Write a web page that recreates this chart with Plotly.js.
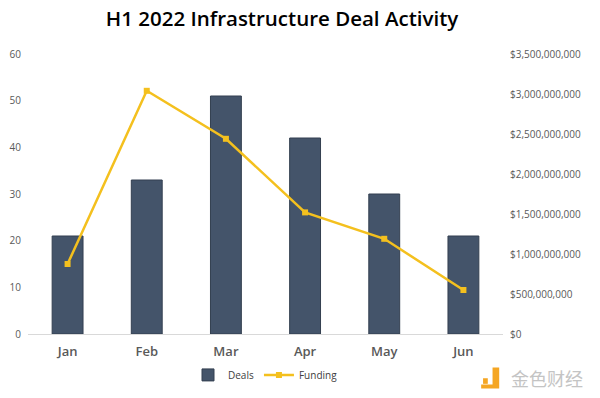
<!DOCTYPE html>
<html><head><meta charset="utf-8">
<script src="https://cdn.plot.ly/plotly-3.0.1.min.js"></script>
<style>body{margin:0;background:#fff}#chart{width:600px;height:398px}</style>
</head><body><div id="chart"></div>
<script>
const months = ["Jan","Feb","Mar","Apr","May","Jun"];
const deals = [21, 33, 51, 42, 30, 21];
const funding = [875000000, 3040000000, 2440000000, 1520000000, 1190000000, 550000000];
const leftTicks = [0,10,20,30,40,50,60];
const rightTicks = [0,500000000,1000000000,1500000000,2000000000,2500000000,3000000000,3500000000];
const rightLabels = rightTicks.map(v => "$" + v.toLocaleString("en-US"));

const font = "Open Sans, Noto Sans, sans-serif";
const data = [
  {type:"bar", x:months, y:deals, name:"Deals", marker:{color:"#44546a", line:{color:"#333f50", width:1}}, yaxis:"y"},
  {type:"scatter", mode:"lines+markers", x:months, y:funding, name:"Funding", yaxis:"y2",
   line:{color:"#f4c01e", width:2.5}, marker:{symbol:"square", size:6, color:"#f4c01e"}}
];
const layout = {
  width:600, height:398,
  margin:{l:28, r:97, t:54, b:64},
  paper_bgcolor:"#fff", plot_bgcolor:"#fff",
  font:{family:font, color:"#595959"},
  title:{text:"H1 2022 Infrastructure Deal Activity", x:0.47, xref:"container", xanchor:"center", y:0.953, yanchor:"middle", font:{family:font, size:20.5, color:"#000", weight:600}},
  bargap:0.61,
  showlegend:true,
  legend:{orientation:"h", x:0.5, xanchor:"center", yref:"container", y:0.058, yanchor:"middle", font:{size:10, color:"#404040"}},
  xaxis:{showgrid:false, showline:true, linecolor:"#d9d9d9", linewidth:1, ticks:"", tickfont:{size:13, color:"#595959", weight:600}, zeroline:false, ticklabelstandoff:5},
  yaxis:{range:[0,60], tickvals:leftTicks, showgrid:false, zeroline:false, showline:false, ticks:"", tickfont:{size:10, color:"#595959"}, ticklabelstandoff:6},
  yaxis2:{range:[0,3500000000], overlaying:"y", side:"right", tickvals:rightTicks, ticktext:rightLabels, showgrid:false, zeroline:false, showline:false, ticks:"", tickfont:{size:10, color:"#595959"}, ticklabelstandoff:6},
  shapes:[
    {type:"rect", xref:"paper", yref:"paper", x0:0.958, x1:0.968, y0:-0.178, y1:-0.158, fillcolor:"#f5a623", line:{width:0}},
    {type:"path", xref:"paper", yref:"paper", path:"M 0.978 -0.12 L 0.992 -0.12 L 0.992 -0.195 L 0.954 -0.195 L 0.954 -0.18 L 0.978 -0.18 Z", fillcolor:"#f5a623", line:{width:0}}
  ],
  annotations:[
    {text:"金色财经", xref:"paper", yref:"paper", x:1.012, y:-0.158, xanchor:"left", yanchor:"middle", showarrow:false, font:{family:"Noto Sans CJK SC, sans-serif", size:18, color:"#c4c4c4"}}
  ]
};
Plotly.newPlot("chart", data, layout, {displayModeBar:false, staticPlot:true});
</script></body></html>
